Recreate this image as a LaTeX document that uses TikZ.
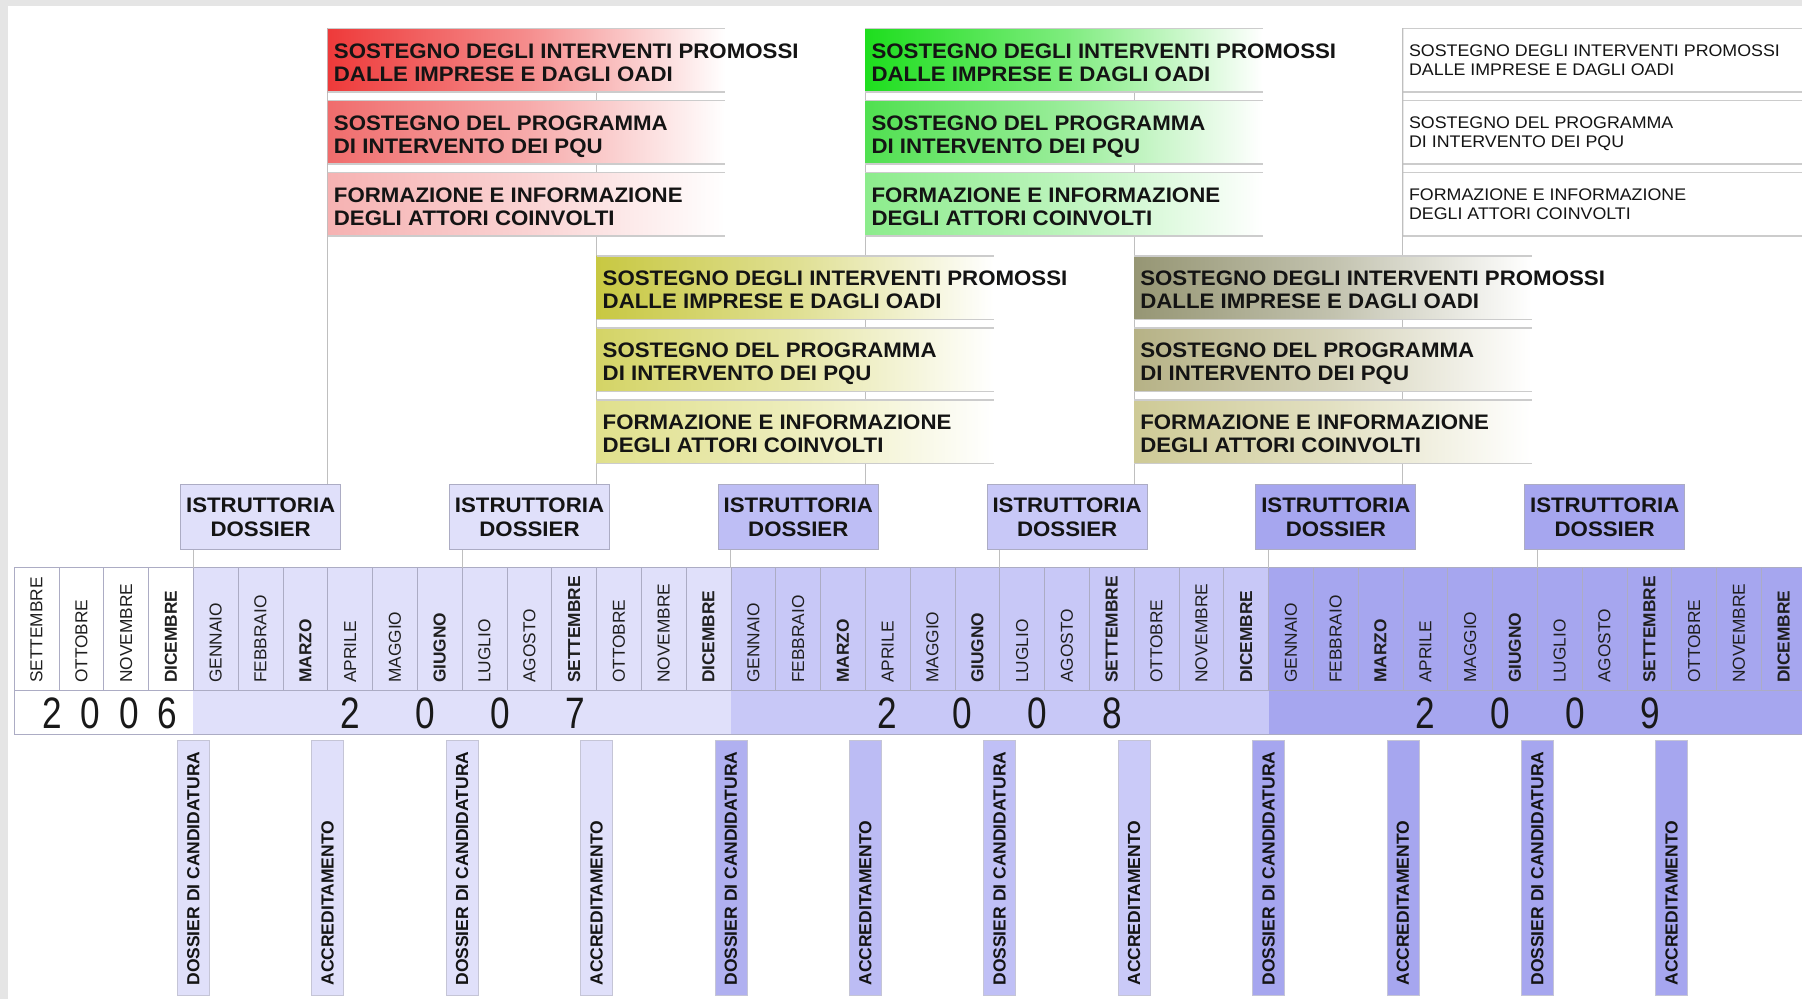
\documentclass[tikz,border=0pt]{standalone}
\usepackage{fontspec}
\setmainfont{Liberation Sans}
\newfontfamily\wfont[FakeStretch=1.06]{Liberation Sans}
\newfontfamily\yfont[FakeStretch=0.8]{Liberation Sans}
\definecolor{yA}{RGB}{224,224,250}
\definecolor{yB}{RGB}{200,200,247}
\definecolor{yC}{RGB}{166,166,239}
\definecolor{bxC}{RGB}{190,190,245}
\definecolor{cB5}{RGB}{176,176,240}
\definecolor{cB6}{RGB}{188,188,244}
\definecolor{cB7}{RGB}{192,192,246}
\definecolor{cB8}{RGB}{202,202,248}
\definecolor{sepc}{RGB}{172,172,196}
\definecolor{blinec}{RGB}{204,204,204}
\definecolor{red1}{RGB}{238,58,58}
\definecolor{red2}{RGB}{240,108,108}
\definecolor{red3}{RGB}{246,178,178}
\definecolor{grn1}{RGB}{30,222,30}
\definecolor{grn2}{RGB}{80,224,80}
\definecolor{grn3}{RGB}{140,236,140}
\definecolor{yel1}{RGB}{200,200,66}
\definecolor{yel2}{RGB}{212,212,102}
\definecolor{yel3}{RGB}{224,224,140}
\definecolor{kha1}{RGB}{150,150,116}
\definecolor{kha2}{RGB}{182,178,134}
\definecolor{kha3}{RGB}{206,202,150}
\definecolor{txt}{RGB}{20,20,20}
\newcommand\mkband[5]{%
  \node[band, left color=#4, right color=white, middle color=#4!58!white] (#1) at (#2,#3) {};
  \draw[bandline] (#1.north west) -- (#1.north east) (#1.south west) -- (#1.south east);
  \node[bandtext] (#1t) at ([xshift=6pt,yshift=-15pt]#1.north west) {#5};
}
\newcommand\mkwband[4]{%
  \node[band, fill=white, minimum width=400pt] (#1) at (#2,#3) {};
  \draw[bandline] (#1.north west) -- (#1.north east) (#1.south west) -- (#1.south east);
  \node[wbandtext] (#1t) at ([xshift=6pt,yshift=-16pt]#1.north west) {#4};
}
\begin{document}
\begin{tikzpicture}[x=1pt,y=-1pt,
  band/.style={anchor=north west, minimum width=397pt, minimum height=63.5pt, inner sep=0pt, draw=none},
  bandline/.style={draw=blinec, line width=1.6pt},
  bandtext/.style={anchor=north west, align=left, inner sep=0pt, text=txt, font=\wfont\bfseries\fontsize{21}{23}\selectfont},
  wbandtext/.style={anchor=north west, align=left, inner sep=0pt, text=txt, font=\wfont\fontsize{16.8}{19.5}\selectfont},
  conn/.style={draw=black!25, line width=0.9pt},
  sepl/.style={draw=sepc, line width=0.8pt},
  mon/.style={rotate=90, anchor=west, inner sep=0pt, text=black!88, font=\fontsize{17.3}{18}\selectfont},
  yr/.style={inner sep=0pt, text=black!90, font=\yfont\fontsize{44}{44}\selectfont},
  istr/.style={draw=sepc, line width=1pt, minimum width=160pt, minimum height=64.3pt, inner sep=0pt, align=center, text=txt, font=\wfont\bfseries\fontsize{21}{24}\selectfont},
  barbox/.style={draw=sepc!70, line width=0.8pt, minimum width=32pt, minimum height=255pt, inner sep=0pt, anchor=north},
  bartext/.style={rotate=90, anchor=west, inner sep=0pt, text=txt, font=\bfseries\fontsize{17.5}{18}\selectfont}]
\useasboundingbox (0,0) rectangle (1802,999);
\fill[white] (0,0) rectangle (1802,999);
\fill[black!10] (0,0) rectangle (1802,6);
\fill[black!10] (0,0) rectangle (8,999);
% year backgrounds
\fill[yA] (193.3,567.7) rectangle (731,734);
\fill[yB] (731,567.7) rectangle (1268.6,734);
\fill[yC] (1268.6,567.7) rectangle (1802,734);
\foreach \i in {0,...,39} \draw[sepl] ({14.1+44.8*\i},567.7) -- ({14.1+44.8*\i},690);
\draw[sepl] (14.1,567.7) -- (1802,567.7);
\draw[sepl] (14.1,690) -- (1802,690);
\draw[sepl] (14.1,734) -- (1802,734);
\draw[sepl] (14.1,690) -- (14.1,734);
% month labels
\foreach \n [count=\k from 0] in {SETTEMBRE,OTTOBRE,NOVEMBRE,{\bfseries DICEMBRE}}
  \node[mon] (m\k) at ({14.1+44.8*(\k+0.5)},683) {\n};
\foreach \yy in {0,1,2}{
  \foreach \n [count=\k from 0] in {GENNAIO,FEBBRAIO,{\bfseries MARZO},APRILE,MAGGIO,{\bfseries GIUGNO},LUGLIO,AGOSTO,{\bfseries SETTEMBRE},OTTOBRE,NOVEMBRE,{\bfseries DICEMBRE}}{
    \pgfmathtruncatemacro\i{4+12*\yy+\k}
    \node[mon] (m\i) at ({14.1+44.8*(\i+0.5)},683) {\n};
  }
}
% years
\node[yr] (y6a) at (52,713) {2};
\node[yr] (y6b) at (90.5,713) {0};
\node[yr] (y6c) at (129,713) {0};
\node[yr] (y6d) at (167.5,713) {6};
\foreach \d [count=\k from 0] in {2,0,0,7} \node[yr] (y7\k) at ({350+75*\k},713) {\d};
\foreach \d [count=\k from 0] in {2,0,0,8} \node[yr] (y8\k) at ({887.6+75*\k},713) {\d};
\foreach \d [count=\k from 0] in {2,0,0,9} \node[yr] (y9\k) at ({1425.2+75*\k},713) {\d};
% istruttoria boxes
\foreach \c [count=\k from 1] in {yA,yA,bxC,yB,yC,yC}
  \node[istr, fill=\c] (b\k) at ({260.7+268.8*(\k-1)},516.85) {ISTRUTTORIA\\DOSSIER};
% connectors box -> month row
\foreach \k in {1,...,6}{
  \coordinate (mt\k) at ({193.3+268.8*(\k-1)},567.7);
  \draw[conn] (b\k.south -| mt\k) -- (mt\k);
}
% connectors top -> boxes
\foreach \k in {1,...,5}{
  \coordinate (tp\k) at ({327.7+268.8*(\k-1)},28.3);
  \draw[conn] (tp\k) -- (tp\k |- b\k.north);
}
% bands
\mkband{r1}{327.7}{28.3}{red1}{SOSTEGNO DEGLI INTERVENTI PROMOSSI\\DALLE IMPRESE E DAGLI OADI}
\mkband{r2}{327.7}{100.3}{red2}{SOSTEGNO DEL PROGRAMMA\\DI INTERVENTO DEI PQU}
\mkband{r3}{327.7}{172.3}{red3}{FORMAZIONE E INFORMAZIONE\\DEGLI ATTORI COINVOLTI}
\mkband{g1}{865.3}{28.3}{grn1}{SOSTEGNO DEGLI INTERVENTI PROMOSSI\\DALLE IMPRESE E DAGLI OADI}
\mkband{g2}{865.3}{100.3}{grn2}{SOSTEGNO DEL PROGRAMMA\\DI INTERVENTO DEI PQU}
\mkband{g3}{865.3}{172.3}{grn3}{FORMAZIONE E INFORMAZIONE\\DEGLI ATTORI COINVOLTI}
\mkband{yl1}{596.5}{255.7}{yel1}{SOSTEGNO DEGLI INTERVENTI PROMOSSI\\DALLE IMPRESE E DAGLI OADI}
\mkband{yl2}{596.5}{327.7}{yel2}{SOSTEGNO DEL PROGRAMMA\\DI INTERVENTO DEI PQU}
\mkband{yl3}{596.5}{399.7}{yel3}{FORMAZIONE E INFORMAZIONE\\DEGLI ATTORI COINVOLTI}
\mkband{k1}{1134.1}{255.7}{kha1}{SOSTEGNO DEGLI INTERVENTI PROMOSSI\\DALLE IMPRESE E DAGLI OADI}
\mkband{k2}{1134.1}{327.7}{kha2}{SOSTEGNO DEL PROGRAMMA\\DI INTERVENTO DEI PQU}
\mkband{k3}{1134.1}{399.7}{kha3}{FORMAZIONE E INFORMAZIONE\\DEGLI ATTORI COINVOLTI}
\mkwband{w1}{1402.9}{28.3}{SOSTEGNO DEGLI INTERVENTI PROMOSSI\\DALLE IMPRESE E DAGLI OADI}
\mkwband{w2}{1402.9}{100.3}{SOSTEGNO DEL PROGRAMMA\\DI INTERVENTO DEI PQU}
\mkwband{w3}{1402.9}{172.3}{FORMAZIONE E INFORMAZIONE\\DEGLI ATTORI COINVOLTI}
\draw[conn] (tp5) -- (w3.south west);
% bottom bars
\foreach \c [count=\k from 0] in {yA,yA,cB5,cB7,yC,yC}{
  \node[barbox, fill=\c] (dc\k) at ({193.3+268.8*\k},740) {};
  \node[bartext] (dct\k) at ([yshift=10pt]dc\k.south) {DOSSIER DI CANDIDATURA};
}
\foreach \c [count=\k from 0] in {yA,yA,cB6,cB8,yC,yC}{
  \node[barbox, fill=\c] (ac\k) at ({327.7+268.8*\k},740) {};
  \node[bartext] (act\k) at ([yshift=10pt]ac\k.south) {ACCREDITAMENTO};
}
\end{tikzpicture}
\end{document}
